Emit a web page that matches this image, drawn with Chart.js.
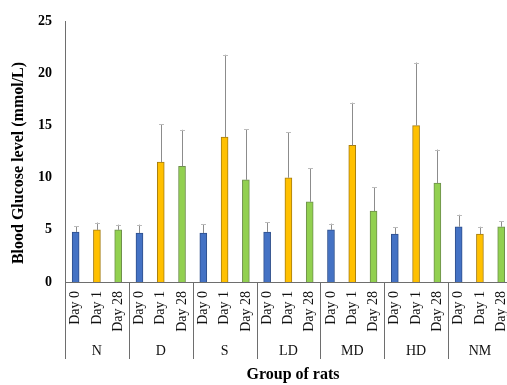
<!DOCTYPE html>
<html>
<head>
<meta charset="utf-8">
<script src="https://cdn.jsdelivr.net/npm/chart.js@4"></script>
<style>
  html, body { margin: 0; padding: 0; background: #fff; overflow: hidden; }
  canvas { display: block; }
</style>
</head>
<body>
<canvas id="chart" width="527" height="385"></canvas>
<script>
// Rat groups and sampling days
const groups = ['N', 'D', 'S', 'LD', 'MD', 'HD', 'NM'];
const days = ['Day 0', 'Day 1', 'Day 28'];

// Mean blood glucose (mmol/L) per group
const day0 = [4.8, 4.7, 4.7, 4.8, 5.0, 4.6, 5.3];
const day1 = [5.0, 11.5, 13.9, 10.0, 13.1, 15.0, 4.6];
const day28 = [5.0, 11.1, 9.8, 7.7, 6.8, 9.5, 5.3];

// Standard deviations (upper error bars)
const day0Sd = [0.55, 0.8, 0.85, 0.95, 0.6, 0.65, 1.15];
const day1Sd = [0.7, 3.65, 7.9, 4.35, 4.1, 6.05, 0.7];
const day28Sd = [0.5, 3.5, 4.85, 3.2, 2.3, 3.2, 0.55];

// Y axis ticks
const yTicks = [0, 5, 10, 15, 20, 25];

const yTitle = 'Blood Glucose level (mmol/L)';
const xTitle = 'Group of rats';

const seriesMeans = [day0, day1, day28];
const seriesSds = [day0Sd, day1Sd, day28Sd];
const fills = ['#4472C4', '#FFC000', '#92D050'];
const borders = ['#2E4F8C', '#A57C10', '#6E8F4C'];

// One category per (group, day) pair
const labels = [];
groups.forEach(() => days.forEach(d => labels.push(d)));

const datasets = days.map((d, di) => {
  const data = labels.map(() => null);
  const errors = labels.map(() => null);
  groups.forEach((g, gi) => {
    data[gi * days.length + di] = seriesMeans[di][gi];
    errors[gi * days.length + di] = seriesSds[di][gi];
  });
  return {
    label: d,
    data,
    errors,
    backgroundColor: fills[di],
    borderColor: borders[di],
    borderWidth: 1,
    barThickness: 7,
    grouped: false
  };
});

const serif = "'Liberation Serif', 'Times New Roman', serif";

const errorBars = {
  id: 'errorBars',
  afterDatasetsDraw(chart) {
    const ctx = chart.ctx;
    const y = chart.scales.y;
    chart.data.datasets.forEach((ds, di) => {
      const meta = chart.getDatasetMeta(di);
      meta.data.forEach((bar, i) => {
        const v = ds.data[i];
        if (v == null) return;
        const x = Math.round(bar.x) + 0.5;
        const yTop = y.getPixelForValue(v + ds.errors[i]);
        const yBar = y.getPixelForValue(v);
        ctx.save();
        ctx.strokeStyle = '#8c8c8c';
        ctx.lineWidth = 1;
        ctx.beginPath();
        ctx.moveTo(x, yBar);
        ctx.lineTo(x, yTop);
        ctx.stroke();
        ctx.strokeStyle = '#bcbcbc';
        ctx.beginPath();
        ctx.moveTo(x - 2.5, Math.round(yTop) + 0.5);
        ctx.lineTo(x + 2.5, Math.round(yTop) + 0.5);
        ctx.stroke();
        ctx.restore();
      });
    });
  }
};

const axisDecor = {
  id: 'axisDecor',
  afterDraw(chart) {
    const ctx = chart.ctx;
    const x = chart.scales.x;
    const area = chart.chartArea;
    const n = labels.length;
    const cw = (x.right - x.left) / n;
    const sepBottom = 359;
    ctx.save();
    // group separators
    ctx.strokeStyle = '#6e6e6e';
    ctx.lineWidth = 1;
    for (let g = 0; g <= groups.length; g++) {
      const sx = Math.round(x.left + g * days.length * cw) + 0.5;
      ctx.beginPath();
      ctx.moveTo(sx, area.bottom);
      ctx.lineTo(sx, sepBottom);
      ctx.stroke();
    }
    // group names
    ctx.fillStyle = '#111';
    ctx.font = '14px ' + serif;
    ctx.textAlign = 'center';
    ctx.textBaseline = 'middle';
    groups.forEach((g, gi) => {
      const cx = x.left + (gi + 0.5) * days.length * cw;
      ctx.fillText(g, cx, 351);
    });
    // axis titles
    ctx.fillStyle = '#000';
    ctx.font = 'bold 16px ' + serif;
    ctx.fillText(xTitle, 293, 375);
    ctx.translate(19, 163);
    ctx.rotate(-Math.PI / 2);
    ctx.fillText(yTitle, 0, 0);
    ctx.restore();
  }
};

new Chart(document.getElementById('chart'), {
  type: 'bar',
  data: { labels, datasets },
  options: {
    responsive: false,
    animation: false,
    events: [],
    layout: { padding: { top: 18, left: 0, right: 0, bottom: 0 } },
    plugins: {
      legend: { display: false },
      tooltip: { enabled: false }
    },
    scales: {
      x: {
        offset: true,
        grid: { display: false, drawTicks: false },
        border: { display: true, color: '#6e6e6e', width: 1 },
        ticks: {
          minRotation: 90,
          maxRotation: 90,
          autoSkip: false,
          padding: 9,
          color: '#111',
          font: { family: serif, size: 14 }
        },
        afterFit(scale) { scale.height = 103; }
      },
      y: {
        min: 0,
        max: 25,
        grid: { display: false, drawTicks: false },
        border: { display: true, color: '#6e6e6e', width: 1 },
        afterBuildTicks(scale) { scale.ticks = yTicks.map(v => ({ value: v })); },
        ticks: {
          padding: 13,
          color: '#000',
          font: { family: serif, size: 14, weight: 'bold' }
        },
        afterFit(scale) { scale.width = 65; }
      }
    }
  },
  plugins: [errorBars, axisDecor]
});
</script>
</body>
</html>
